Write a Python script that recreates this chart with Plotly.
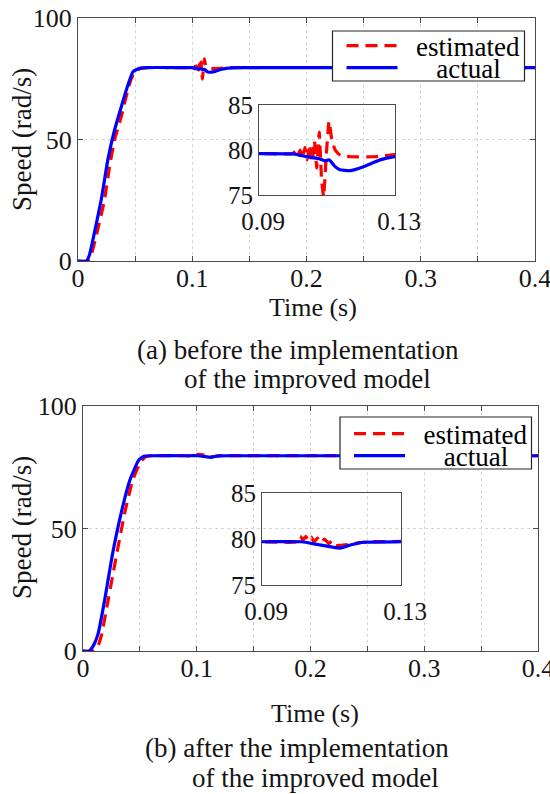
import plotly.graph_objects as go

W, H = 550, 794


def px(x):
    return x / W


def py(y):
    return 1 - y / H


# ---------------- data ----------------
# (a) before the implementation of the improved model
T_EST_A = [0, 0.0086, 0.0125, 0.0165, 0.0232, 0.0276, 0.032, 0.0379, 0.0414, 0.0452,
           0.0496, 0.0554, 0.061, 0.09, 0.1000, 0.1007, 0.1014, 0.1021, 0.1028, 0.1035,
           0.1042, 0.1049, 0.1056, 0.1063, 0.1070, 0.1077, 0.1084, 0.1090, 0.1098, 0.1106,
           0.1114, 0.1124, 0.1140, 0.1170, 0.1240, 0.1300, 0.1400, 0.4]
V_EST_A = [0, 0, 4.0, 11.4, 25.1, 38.8, 49.8, 59.4, 66.2, 73.1,
           77.9, 79.3, 79.6, 79.6, 79.6, 79.9, 79.3, 80.0, 79.1, 80.3,
           78.9, 80.6, 78.6, 81.0, 78.0, 82.0, 76.8, 74.8, 79.5, 83.2,
           81.2, 80.0, 79.4, 79.25, 79.25, 79.5, 79.6, 79.6]
T_ACT_A = [0, 0.0075, 0.010, 0.013, 0.0203, 0.0261, 0.032, 0.0379, 0.0437, 0.0481,
           0.054, 0.060, 0.09, 0.1001, 0.1040, 0.1079, 0.1094, 0.1107, 0.1124, 0.1138,
           0.1168, 0.1207, 0.1256, 0.13, 0.135, 0.14, 0.15, 0.4]
V_ACT_A = [0, 0, 2.5, 8.6, 25.1, 41.6, 53.9, 63.5, 72.4, 77.9,
           79.3, 79.6, 79.6, 79.56, 79.26, 79.0, 78.8, 78.9, 78.15, 77.8,
           77.7, 78.15, 78.9, 79.26, 79.45, 79.55, 79.6, 79.6]

# (b) after the implementation of the improved model
T_EST_B = [0, 0.0103, 0.0135, 0.0165, 0.0226, 0.0294, 0.0365, 0.0436, 0.0504, 0.055,
           0.061, 0.09, 0.1000, 0.1010, 0.1018, 0.1026, 0.1034, 0.1042, 0.1050, 0.1060,
           0.1070, 0.1080, 0.1092, 0.1102, 0.1112, 0.1125, 0.1150, 0.1180, 0.1210, 0.4]
V_EST_B = [0, 0, 2.5, 7.0, 22.0, 39.0, 56.0, 69.6, 77.0, 79.3,
           79.7, 79.7, 79.7, 80.3, 79.9, 80.3, 79.8, 80.2, 79.7, 80.1,
           79.6, 80.0, 79.5, 79.8, 79.3, 79.3, 79.4, 79.6, 79.7, 79.7]
T_ACT_B = [0, 0.0056, 0.0095, 0.0133, 0.0195, 0.0257, 0.0334, 0.0411, 0.0488, 0.0535,
           0.059, 0.09, 0.1014, 0.1060, 0.1124, 0.1160, 0.1192, 0.13, 0.4]
V_ACT_B = [0, 0, 2.5, 7.1, 22.0, 39.0, 56.0, 69.6, 77.8, 79.5,
           79.7, 79.7, 79.7, 79.4, 79.0, 79.4, 79.65, 79.7, 79.7]

X_TICKS = [0, 0.1, 0.2, 0.3, 0.4]
X_TICK_TEXT = ["0", "0.1", "0.2", "0.3", "0.4"]
X_MINOR = [0.05, 0.15, 0.25, 0.35]
Y_TICKS = [0, 50, 100]
INSET_X_TICKS = [0.09, 0.13]
INSET_X_TEXT = ["0.09", "0.13"]
INSET_Y_TICKS = [75, 80, 85]

NAMES = ["estimated", "actual"]
CAPTIONS_A = ["(a) before the implementation", "of the improved model"]
CAPTIONS_B = ["(b) after the implementation", "of the improved model"]

# ---------------- styling ----------------
FONT = "Liberation Serif, Times New Roman, serif"
TXT = "#141414"
AX = "#4a4a4a"
GRID = "#d6d6d6"
RED = "#ff0000"
BLUE = "#0000ff"
LW = 3.2
DASH = "12px,7px"

fig = go.Figure()


def add_panel(t_est, v_est, t_act, v_act, xa, ya, xi, yi, leg_e, leg_a):
    fig.add_trace(go.Scatter(x=t_est, y=v_est, mode="lines", name="\u00a0\u00a0" + NAMES[0],
                             line=dict(color=RED, width=LW, dash=DASH, shape="spline", smoothing=0.4),
                             xaxis=xa, yaxis=ya, legend=leg_e))
    fig.add_trace(go.Scatter(x=t_act, y=v_act, mode="lines",
                             name="\u00a0\u00a0\u00a0\u00a0\u00a0" + NAMES[1],
                             line=dict(color=BLUE, width=LW, shape="spline", smoothing=0.4),
                             xaxis=xa, yaxis=ya, legend=leg_a))
    fig.add_trace(go.Scatter(x=t_est, y=v_est, mode="lines", showlegend=False,
                             line=dict(color=RED, width=LW, dash=DASH, shape="spline", smoothing=0.4),
                             xaxis=xi, yaxis=yi))
    fig.add_trace(go.Scatter(x=t_act, y=v_act, mode="lines", showlegend=False,
                             line=dict(color=BLUE, width=LW, shape="spline", smoothing=0.4),
                             xaxis=xi, yaxis=yi))


add_panel(T_EST_A, V_EST_A, T_ACT_A, V_ACT_A, "x", "y", "x2", "y2", "legend", "legend2")
add_panel(T_EST_B, V_EST_B, T_ACT_B, V_ACT_B, "x3", "y3", "x4", "y4", "legend3", "legend4")


def tf(size):
    return dict(family=FONT, size=size, color=TXT)


def main_x(dom, anchor):
    return dict(domain=dom, anchor=anchor, range=[0, 0.4], tickmode="array",
                tickvals=X_TICKS, ticktext=X_TICK_TEXT, ticks="inside", ticklen=5,
                tickcolor=AX, showline=True, linecolor=AX, linewidth=1.2, mirror="allticks",
                showgrid=True, gridcolor=GRID, griddash="dot", gridwidth=1, zeroline=False,
                tickfont=tf(26), fixedrange=True, automargin=False, ticklabelstandoff=-6,
                ticklabeloverflow="allow",
                minor=dict(tickvals=X_MINOR, ticks="inside", ticklen=5, tickcolor=AX,
                           showgrid=True, gridcolor=GRID, griddash="dot", gridwidth=1))


def main_y(dom, anchor):
    return dict(domain=dom, anchor=anchor, range=[0, 100], tickmode="array",
                tickvals=Y_TICKS, ticks="inside", ticklen=5, tickcolor=AX,
                showline=True, linecolor=AX, linewidth=1.2, mirror="allticks",
                showgrid=True, gridcolor=GRID, griddash="dot", gridwidth=1, zeroline=False,
                tickfont=tf(26), fixedrange=True, automargin=False, ticklabeloverflow="allow")


def inset_x(dom, anchor):
    return dict(domain=dom, anchor=anchor, range=[0.09, 0.13], tickmode="array",
                tickvals=INSET_X_TICKS, ticktext=INSET_X_TEXT, ticks="", showline=True,
                linecolor=AX, linewidth=1.2, mirror=True, showgrid=False, zeroline=False,
                tickfont=tf(25), ticklabelstandoff=4, ticklabelshift=4, fixedrange=True,
                automargin=False, ticklabeloverflow="allow")


def inset_y(dom, anchor):
    return dict(domain=dom, anchor=anchor, range=[75, 85], tickmode="array",
                tickvals=INSET_Y_TICKS, ticks="", showline=True, linecolor=AX, linewidth=1.2,
                mirror=True, showgrid=False, zeroline=False, tickfont=tf(25),
                fixedrange=True, automargin=False, ticklabeloverflow="allow")


# panel geometry (pixels)
A_MAIN = (78, 535, 18, 261)
A_INS = (259, 395, 105, 195)
B_MAIN = (83, 538, 406, 651)
B_INS = (262, 401, 493, 585)


def dx(b):
    return [px(b[0]), px(b[1])]


def dy(b):
    return [py(b[3]), py(b[2])]


def legend_cfg(x, y):
    return dict(x=px(x), y=py(y), xanchor="left", yanchor="middle", bgcolor="rgba(0,0,0,0)",
                borderwidth=0, font=dict(family=FONT, size=27, color="#000"), itemwidth=51,
                tracegroupgap=0)


fig.update_layout(
    width=W, height=H, margin=dict(l=0, r=0, t=0, b=0, pad=0, autoexpand=False),
    font=dict(family=FONT, size=26, color=TXT),
    paper_bgcolor="white", plot_bgcolor="rgba(0,0,0,0)",
    xaxis=main_x(dx(A_MAIN), "y"), yaxis=main_y(dy(A_MAIN), "x"),
    xaxis2=inset_x(dx(A_INS), "y2"), yaxis2=inset_y(dy(A_INS), "x2"),
    xaxis3=main_x(dx(B_MAIN), "y3"), yaxis3=main_y(dy(B_MAIN), "x3"),
    xaxis4=inset_x(dx(B_INS), "y4"), yaxis4=inset_y(dy(B_INS), "x4"),
    legend=legend_cfg(341.5, 46), legend2=legend_cfg(341.5, 68),
    legend3=legend_cfg(349, 434), legend4=legend_cfg(349, 456),
    showlegend=True,
)

# legend frames
for (x0, x1, y0, y1) in [(332.5, 524.5, 31, 81), (340, 531.5, 417, 469)]:
    fig.add_shape(type="rect", xref="paper", yref="paper", x0=px(x0), x1=px(x1),
                  y0=py(y1), y1=py(y0), fillcolor="white",
                  line=dict(color="#262626", width=1.2), layer="above")

ann_font = tf(26)
spd_font = tf(27)
cap_font = tf(27)
annotations = [
    dict(text="Speed (rad/s)", x=px(22), y=py(140), textangle=-90, font=spd_font),
    dict(text="Time (s)", x=px(313), y=py(308), font=ann_font),
    dict(text=CAPTIONS_A[0], x=px(298), y=py(350), font=cap_font),
    dict(text=CAPTIONS_A[1], x=px(307), y=py(379), font=cap_font),
    dict(text="Speed (rad/s)", x=px(22), y=py(528), textangle=-90, font=spd_font),
    dict(text="Time (s)", x=px(315), y=py(713), font=ann_font),
    dict(text=CAPTIONS_B[0], x=px(297), y=py(748), font=cap_font),
    dict(text=CAPTIONS_B[1], x=px(315), y=py(778), font=cap_font),
]
for a in annotations:
    fig.add_annotation(xref="paper", yref="paper", showarrow=False, xanchor="center",
                       yanchor="middle", **a)

fig.write_html("out.html")
